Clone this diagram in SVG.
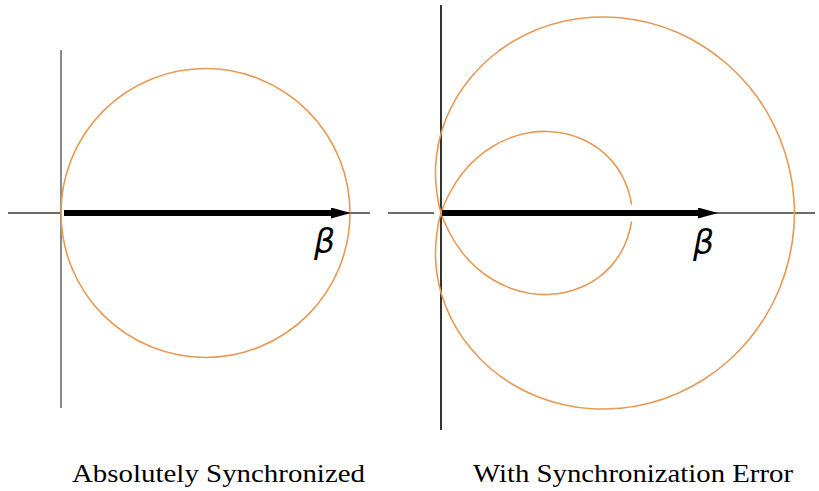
<svg xmlns="http://www.w3.org/2000/svg" width="819" height="491" viewBox="0 0 819 491">
<style>
.axis{stroke:#3a3a3a;stroke-width:1.5;fill:none}
.vaxL{stroke:#8a8a8a;stroke-width:2;fill:none}
.vaxR{stroke:#333;stroke-width:2;fill:none}
.curve{stroke:#E59A55;stroke-width:1.6;fill:none;stroke-linejoin:round}
.vec{stroke:#000;stroke-width:6;fill:none;stroke-linecap:butt}
.beta{font-family:"DejaVu Sans",sans-serif;font-style:italic;font-size:33px;fill:#000}
.cap{font-family:"Liberation Serif","Times New Roman",serif;font-size:26px;fill:#000}
</style>
<defs>
<marker id="ah" markerWidth="20" markerHeight="11" refX="0" refY="5.5" orient="auto" markerUnits="userSpaceOnUse">
<path d="M0,0 L20,5.5 L0,11 Z" fill="#000"/>
</marker>
</defs>
<rect width="819" height="491" fill="#fff"/>
<g id="left-plot">
<line class="axis" x1="8" y1="213" x2="61" y2="213"/>
<line class="axis" x1="345" y1="213" x2="370" y2="213"/>
<line class="vaxL" x1="61" y1="50" x2="61" y2="408"/>
<circle class="curve" cx="205.5" cy="213" r="144.5"/>
</g>
<g id="right-plot">
<line class="axis" x1="388" y1="213" x2="434" y2="213"/>
<line class="axis" x1="712" y1="213" x2="815" y2="213"/>
<line class="vaxR" x1="441" y1="5" x2="441" y2="430"/>
<path class="curve" d="M631.6,204.7 L630.9,200.55 Q630.2,196.4 627.6,188.5 T620.75,173.3 T610.75,159.65 T598.0,148.2 T582.9,139.4 T565.95,133.7 T547.8,131.45 T529.05,132.8 T510.4,137.85 T492.55,146.5 T476.15,158.65 T461.8,174.05 T450.1,192.25 T443.0,207.5 T439.6,218.3 T436.65,235.15 T435.55,258.6 T438.5,282.5 T445.6,306.15 T456.8,328.8 T471.85,349.8 T490.5,368.5 T512.4,384.2 T537.0,396.4 T563.65,404.7 T591.7,408.7 T620.45,408.25 T649.1,403.25 T676.95,393.7 T703.3,379.75 T727.35,361.75 T748.45,340.15 T766.1,315.35 T779.75,287.95 T789.05,258.75 T793.8,228.4 T793.8,197.6 T789.05,167.25 T779.75,138.05 T766.1,110.65 T748.45,85.85 T727.35,64.25 T703.3,46.25 T676.95,32.3 T649.1,22.75 T620.45,17.75 T591.7,17.3 T563.65,21.3 T537.0,29.6 T512.4,41.8 T490.5,57.5 T471.85,76.2 T456.8,97.2 T445.6,119.85 T438.5,143.5 T435.55,167.4 T436.65,190.85 T439.6,207.7 T443.0,218.5 T450.1,233.75 T461.8,251.95 T476.15,267.35 T492.55,279.5 T510.4,288.15 T529.05,293.2 T547.8,294.55 T565.95,292.3 T582.9,286.6 T598.0,277.8 T610.75,266.35 T620.75,252.7 T627.6,237.5 T630.9,225.45 L631.6,221.3"/>
</g>
<g id="connectors">
<line class="vec" x1="64" y1="213" x2="331" y2="213" marker-end="url(#ah)"/>
<line class="vec" x1="442" y1="213" x2="698" y2="213" marker-end="url(#ah)"/>
</g>
<g id="labels">
<text class="beta" x="314" y="253">β</text>
<text class="beta" x="693" y="254">β</text>
<text class="cap" x="72" y="482" textLength="293" lengthAdjust="spacingAndGlyphs">Absolutely Synchronized</text>
<text class="cap" x="473" y="482" textLength="320" lengthAdjust="spacingAndGlyphs">With Synchronization Error</text>
</g>
</svg>
